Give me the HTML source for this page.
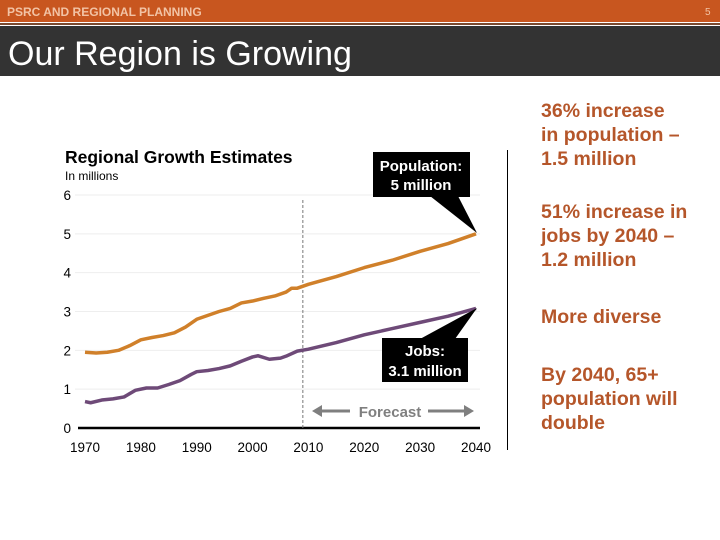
<!DOCTYPE html>
<html><head><meta charset="utf-8"><style>
body{margin:0;width:720px;height:540px;background:#fff;position:relative;overflow:hidden;font-family:"Liberation Sans",sans-serif}
.a{position:absolute}
.rt{position:absolute;left:541px;color:#b5562a;font-weight:bold;font-size:19.5px;line-height:24px}
</style></head><body>
<div class="a" style="left:0;top:0;width:720px;height:22px;background:#c8561f"></div>
<div class="a" style="left:0;top:23px;width:720px;height:2px;background:#7a4a30"></div>
<div class="a" style="left:7px;top:5px;color:#f2c3a5;font-size:12px;font-weight:bold">PSRC AND REGIONAL PLANNING</div>
<div class="a" style="left:705px;top:7px;color:#f2c3a5;font-size:10px">5</div>
<div class="a" style="left:0;top:26px;width:720px;height:50px;background:#333"></div>
<div class="a" style="left:8px;top:35px;color:#fff;font-size:34px">Our Region is Growing</div>
<div class="a" style="left:507px;top:150px;width:1px;height:300px;background:#000"></div>
<div class="rt" style="top:99px">36% increase<br>in population –<br>1.5 million</div>
<div class="rt" style="top:200px">51% increase in<br>jobs by 2040 –<br>1.2 million</div>
<div class="rt" style="top:305px">More diverse</div>
<div class="rt" style="top:363px">By 2040, 65+<br>population will<br>double</div>
<svg class="a" style="left:0;top:0" width="720" height="540">
<text x="65" y="163" font-size="17.5" font-weight="bold" font-family="Liberation Sans">Regional Growth Estimates</text>
<text x="65" y="180" font-size="12" font-family="Liberation Sans">In millions</text>
<g id="grid"></g><g id="lines"></g>
<g>
<polygon points="430,196 458,196 477,233" fill="#000"/>
<rect x="373" y="152" width="97" height="45" fill="#000"/>
<text x="421" y="171" fill="#fff" font-size="15" font-weight="bold" text-anchor="middle" font-family="Liberation Sans">Population:</text>
<text x="421" y="190" fill="#fff" font-size="15" font-weight="bold" text-anchor="middle" font-family="Liberation Sans">5 million</text></g>
<g>
<polygon points="420,339 455,339 477,308" fill="#000"/>
<rect x="382" y="338" width="86" height="44" fill="#000"/>
<text x="425" y="356" fill="#fff" font-size="15" font-weight="bold" text-anchor="middle" font-family="Liberation Sans">Jobs:</text>
<text x="425" y="376" fill="#fff" font-size="15" font-weight="bold" text-anchor="middle" font-family="Liberation Sans">3.1 million</text></g>
<g fill="#7f7f7f" stroke="#7f7f7f">
<line x1="318" y1="411" x2="350" y2="411" stroke-width="3"/><polygon points="312,411 322,405 322,417" stroke="none"/>
<line x1="428" y1="411" x2="468" y2="411" stroke-width="3"/><polygon points="474,411 464,405 464,417" stroke="none"/>
<text x="390" y="417" font-size="15" font-weight="bold" text-anchor="middle" stroke="none" font-family="Liberation Sans">Forecast</text></g>
</svg>
<script>
const years=[1970,1980,1990,2000,2010,2020,2030,2040];
const yTicks=[0,1,2,3,4,5,6];
const popYears=[1970,1972,1974,1976,1978,1980,1982,1984,1986,1988,1990,1992,1994,1996,1998,2000,2002,2004,2006,2007,2008,2010,2012,2015,2020,2025,2030,2035,2040];
const popVals=[1.95,1.93,1.95,2.0,2.12,2.27,2.33,2.38,2.45,2.6,2.8,2.9,3.0,3.08,3.22,3.27,3.34,3.4,3.5,3.6,3.6,3.7,3.78,3.9,4.13,4.32,4.55,4.75,5.0];
const jobYears=[1970,1971,1973,1975,1977,1979,1981,1983,1985,1987,1989,1990,1992,1994,1996,1998,2000,2001,2003,2005,2006,2008,2010,2015,2020,2025,2030,2035,2040];
const jobVals=[0.68,0.65,0.72,0.75,0.8,0.97,1.03,1.03,1.12,1.22,1.38,1.45,1.48,1.53,1.6,1.72,1.83,1.86,1.77,1.8,1.85,1.98,2.03,2.2,2.4,2.56,2.72,2.88,3.08];
const forecastYear=2009;
const X=y=>85+(y-1970)*(476-85)/70, Y=v=>428-v*(428-195)/6;
const NS='http://www.w3.org/2000/svg';
function mk(t,a,p){const e=document.createElementNS(NS,t);for(const k in a)e.setAttribute(k,a[k]);p.appendChild(e);return e;}
const g=document.getElementById('grid'),L=document.getElementById('lines');
yTicks.forEach(v=>{
 if(v>0){const l=mk('line',{x1:75,x2:480,y1:Y(v),y2:Y(v),stroke:'#eee','stroke-width':1},g);
 
 }
 const t=mk('text',{x:71,y:Y(v)+5,'font-size':13.5,'text-anchor':'end','font-family':'Liberation Sans'},g);t.textContent=v;
 
 
});
years.forEach(y=>{const t=mk('text',{x:X(y),y:452,'font-size':13.5,'text-anchor':'middle','font-family':'Liberation Sans'},g);t.textContent=y;
 
 });
const ax=mk('line',{x1:78,x2:480,y1:Y(0),y2:Y(0),stroke:'#000','stroke-width':2.5},g);


const fl=mk('line',{x1:X(forecastYear),x2:X(forecastYear),y1:200,y2:428,stroke:'#777','stroke-dasharray':'3,2','stroke-width':1},g);


function series(xs,vs,c,n){const p=mk('polyline',{points:xs.map((y,i)=>X(y)+','+Y(vs[i])).join(' '),fill:'none',stroke:c,'stroke-width':3.5,'stroke-linejoin':'round'},L);
 
 }
series(popYears,popVals,'#d0802a','population-line');
series(jobYears,jobVals,'#6e4a78','jobs-line');
</script>
</body></html>
